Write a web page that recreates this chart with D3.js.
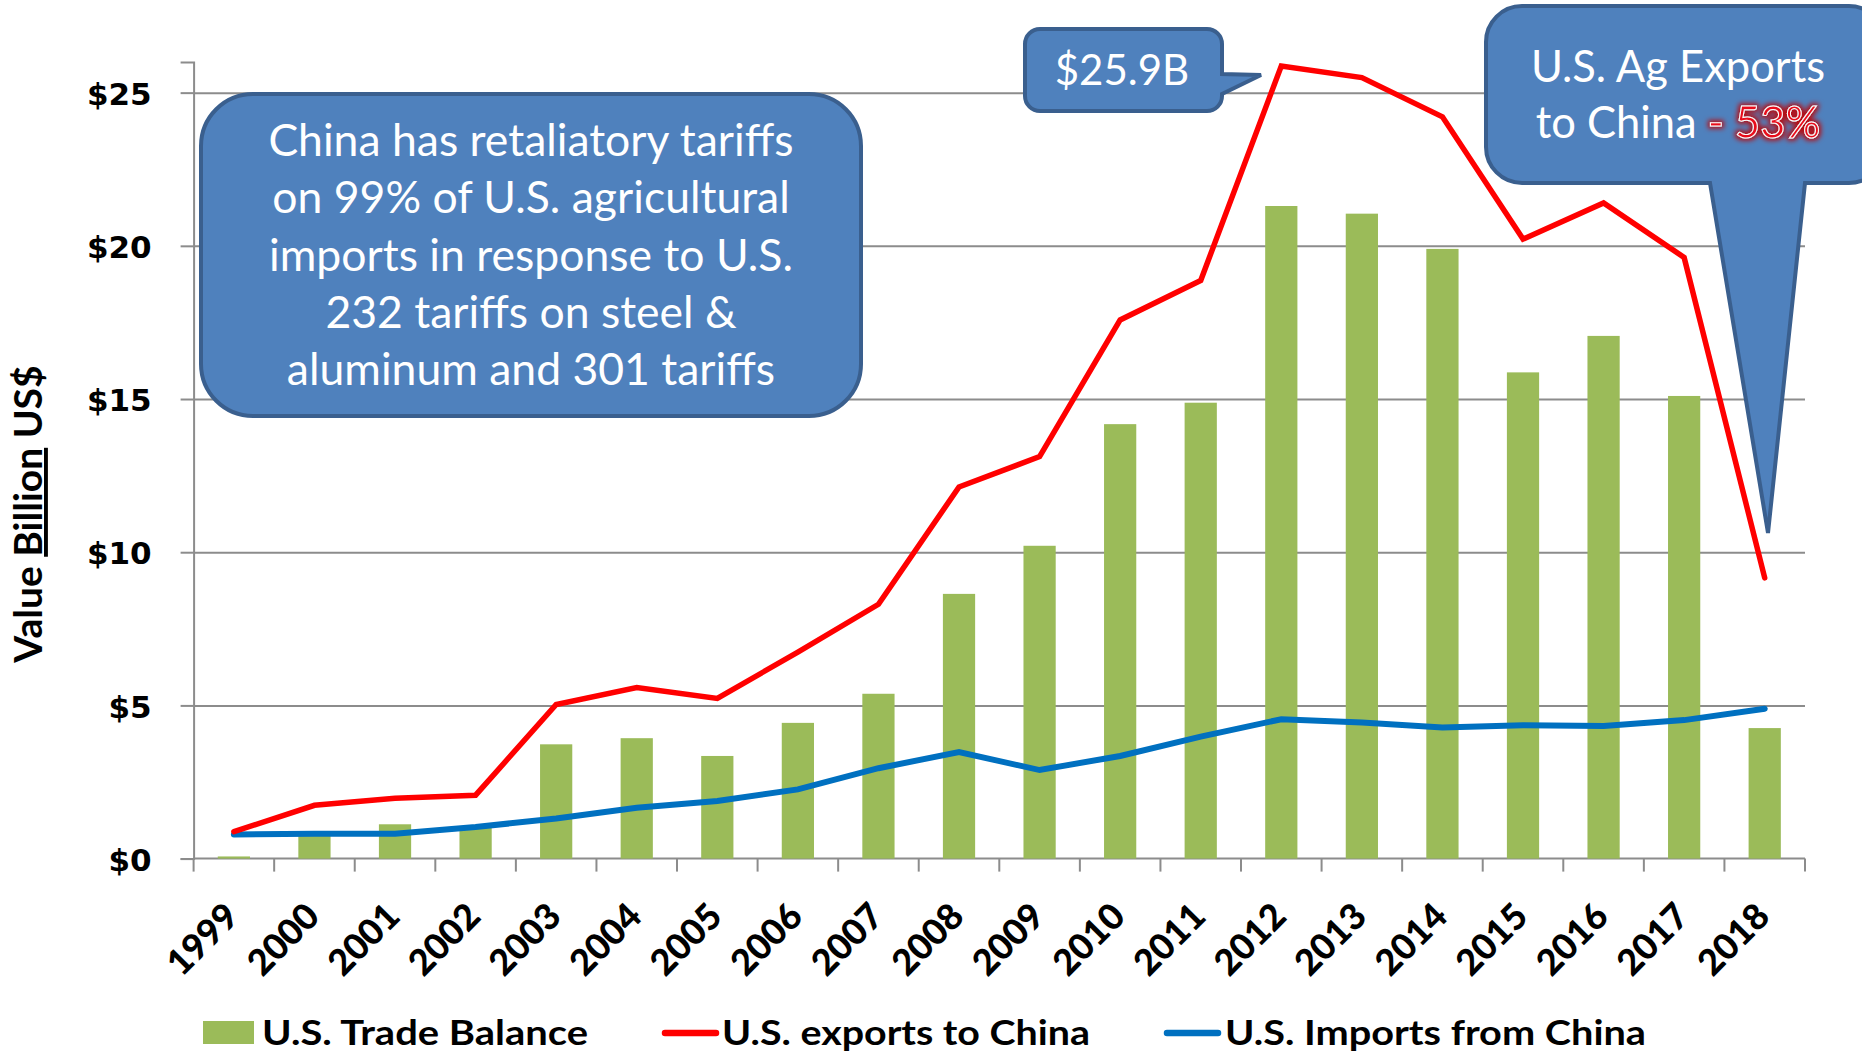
<!DOCTYPE html>
<html>
<head>
<meta charset="utf-8">
<script src="https://cdn.jsdelivr.net/npm/d3@7.9.0/dist/d3.min.js"></script>
<style>
  body { margin: 0; background: #fff; }
  svg { display: block; }
</style>
</head>
<body>
<svg id="chart" width="1862" height="1053"></svg>
<script>
// data (billion US$)
const years = ['1999','2000','2001','2002','2003','2004','2005','2006','2007','2008',
               '2009','2010','2011','2012','2013','2014','2015','2016','2017','2018'];
const tradeBalance = [0.07, 0.88, 1.12, 1.02, 3.73, 3.93, 3.35, 4.43, 5.38, 8.64,
                      10.21, 14.18, 14.88, 21.3, 21.05, 19.9, 15.87, 17.06, 15.1, 4.26];
const exportsToChina = [0.88, 1.74, 1.97, 2.07, 5.03, 5.58, 5.23, 6.74, 8.3, 12.13,
                        13.12, 17.58, 18.87, 25.87, 25.49, 24.21, 20.22, 21.4, 19.62, 9.16];
const importsFromChina = [0.79, 0.81, 0.81, 1.03, 1.31, 1.66, 1.88, 2.26, 2.95, 3.48,
                          2.89, 3.35, 3.98, 4.55, 4.44, 4.28, 4.35, 4.33, 4.52, 4.89];
const yTicks = [0, 5, 10, 15, 20, 25];
const legendLabels = ['U.S. Trade Balance', 'U.S. exports to China', 'U.S. Imports from China'];
const noteLines = ['China has retaliatory tariffs', 'on 99% of U.S. agricultural',
                   'imports in response to U.S.', '232 tariffs on steel &', 'aluminum and 301 tariffs'];

const GREEN = '#9BBB59', RED = '#FF0000', BLUE = '#0070C0';
const BOX = '#4F81BD', BOX_LINE = '#3A5F8E', GRID = '#8c8c8c';
const SANS = 'Lato, "Open Sans", sans-serif';

const svg = d3.select('#chart');
const plotLeft = 193.6, plotRight = 1805, plotBottom = 858.6, plotTop = 62;

const x = d3.scaleBand().domain(years).range([plotLeft, plotRight]).padding(0);
const y = d3.scaleLinear().domain([0, 26]).range([plotBottom, plotTop]);
const cx = (d) => x(d) + x.bandwidth() / 2;

// gridlines + y labels
const yAxis = d3.axisLeft(y).tickValues(yTicks).tickSize(13).tickFormat((d) => '$' + d);
const gy = svg.append('g').attr('transform', `translate(${plotLeft},0)`).call(yAxis);
gy.select('.domain').attr('stroke', GRID).attr('stroke-width', 2);
gy.selectAll('.tick line').attr('stroke', GRID).attr('stroke-width', 2);
gy.selectAll('.tick text')
  .attr('x', -42).attr('dy', '0.38em')
  .style('font-family', '"DejaVu Sans", Verdana, sans-serif')
  .style('font-weight', 'bold').style('font-size', '31px').attr('fill', '#000');
gy.selectAll('.tick').filter((d) => d > 0).append('line')
  .attr('x1', 0).attr('x2', plotRight - plotLeft)
  .attr('stroke', GRID).attr('stroke-width', 2);

// x axis with ticks at band edges
const gx = svg.append('g').attr('transform', `translate(0,${plotBottom})`);
gx.append('line').attr('x1', plotLeft).attr('x2', plotRight).attr('stroke', GRID).attr('stroke-width', 2);
gx.selectAll('line.edge')
  .data(d3.range(years.length + 1))
  .join('line').attr('class', 'edge')
  .attr('x1', (i) => plotLeft + i * x.bandwidth()).attr('x2', (i) => plotLeft + i * x.bandwidth())
  .attr('y1', 0).attr('y2', 13)
  .attr('stroke', GRID).attr('stroke-width', 2);
gx.selectAll('text')
  .data(years)
  .join('text')
  .attr('transform', (d) => `translate(${cx(d) + 7},60) rotate(-45)`)
  .attr('text-anchor', 'end')
  .style('font-family', SANS).style('font-weight', 900).style('font-size', '36px')
  .text((d) => d);

// bars
const barW = x.bandwidth() * 0.4;
svg.append('g').selectAll('rect')
  .data(years)
  .join('rect')
  .attr('x', (d) => cx(d) - barW / 2)
  .attr('width', barW)
  .attr('y', (d, i) => y(tradeBalance[i]))
  .attr('height', (d, i) => plotBottom - y(tradeBalance[i]))
  .attr('fill', GREEN);

// lines
const line = d3.line().x((d, i) => cx(years[i])).y((d) => y(d));
svg.append('path').datum(importsFromChina).attr('d', line)
  .attr('fill', 'none').attr('stroke', BLUE).attr('stroke-width', 6).attr('stroke-linecap', 'round');
svg.append('path').datum(exportsToChina).attr('d', line)
  .attr('fill', 'none').attr('stroke', RED).attr('stroke-width', 5.5).attr('stroke-linecap', 'round');

// y axis title
svg.append('text')
  .attr('transform', 'translate(42,514) rotate(-90)')
  .attr('text-anchor', 'middle')
  .style('font-family', SANS).style('font-weight', 'bold').style('font-size', '39px')
  .call((t) => {
    t.append('tspan').text('Value ');
    t.append('tspan').text('Billion').style('text-decoration', 'underline');
    t.append('tspan').text(' US$');
  });

// legend (text in the picture is wider than Lato, so stretch to the measured widths)
const lg = svg.append('g').style('font-family', SANS).style('font-weight', 'bold').style('font-size', '35px');
lg.append('rect').attr('x', 203).attr('y', 1021).attr('width', 51).attr('height', 23).attr('fill', GREEN);
lg.append('text').attr('x', 262).attr('y', 1045)
  .attr('textLength', 326).attr('lengthAdjust', 'spacingAndGlyphs').text(legendLabels[0]);
lg.append('line').attr('x1', 665).attr('x2', 716).attr('y1', 1033).attr('y2', 1033)
  .attr('stroke', RED).attr('stroke-width', 6.5).attr('stroke-linecap', 'round');
lg.append('text').attr('x', 722).attr('y', 1045)
  .attr('textLength', 368).attr('lengthAdjust', 'spacingAndGlyphs').text(legendLabels[1]);
lg.append('line').attr('x1', 1167).attr('x2', 1218).attr('y1', 1033).attr('y2', 1033)
  .attr('stroke', BLUE).attr('stroke-width', 6.5).attr('stroke-linecap', 'round');
lg.append('text').attr('x', 1225).attr('y', 1045)
  .attr('textLength', 421).attr('lengthAdjust', 'spacingAndGlyphs').text(legendLabels[2]);

// callouts
const arc = (r, x1, y1) => `A${r},${r} 0 0 1 ${x1},${y1}`;

// big note box
svg.append('rect')
  .attr('x', 201).attr('y', 94).attr('width', 660).attr('height', 322)
  .attr('rx', 52).attr('ry', 52)
  .attr('fill', BOX).attr('stroke', BOX_LINE).attr('stroke-width', 4);
svg.append('g').selectAll('text')
  .data(noteLines)
  .join('text')
  .attr('x', 531).attr('y', (d, i) => 156 + i * 57.3)
  .attr('text-anchor', 'middle').attr('fill', '#fff')
  .style('font-family', SANS).style('font-size', '44.5px')
  .text((d) => d);

// $25.9B callout pointing at the 2012 peak
{
  const x0 = 1025, y0 = 29, x1 = 1222, y1 = 111, r = 15;
  const d = `M${x0 + r},${y0} H${x1 - r} ${arc(r, x1, y0 + r)} V74 L1261,75 L${x1},94 V${y1 - r} ` +
            `${arc(r, x1 - r, y1)} H${x0 + r} ${arc(r, x0, y1 - r)} V${y0 + r} ${arc(r, x0 + r, y0)} Z`;
  svg.append('path').attr('d', d).attr('fill', BOX).attr('stroke', BOX_LINE).attr('stroke-width', 4);
  svg.append('text').attr('x', 1122).attr('y', 85).attr('text-anchor', 'middle').attr('fill', '#fff')
    .style('font-family', SANS).style('font-size', '42px').text('$25.9B');
}

// Ag exports callout
{
  const x0 = 1486, y0 = 6, x1 = 1885, y1 = 183, r = 36;
  const d = `M${x0 + r},${y0} H${x1 - r} ${arc(r, x1, y0 + r)} V${y1 - r} ${arc(r, x1 - r, y1)} ` +
            `H1805 L1768,533 L1710,${y1} H${x0 + r} ${arc(r, x0, y1 - r)} V${y0 + r} ${arc(r, x0 + r, y0)} Z`;
  svg.append('path').attr('d', d).attr('fill', BOX).attr('stroke', BOX_LINE).attr('stroke-width', 4);

  const defs = svg.append('defs');
  const f = defs.append('filter').attr('id', 'glow').attr('x', '-20%').attr('y', '-40%')
    .attr('width', '140%').attr('height', '180%');
  f.append('feMorphology').attr('in', 'SourceAlpha').attr('operator', 'dilate').attr('radius', 1.5).attr('result', 'd');
  f.append('feGaussianBlur').attr('in', 'd').attr('stdDeviation', 2.5).attr('result', 'b');
  f.append('feFlood').attr('flood-color', '#c00000').attr('flood-opacity', 0.9);
  f.append('feComposite').attr('in2', 'b').attr('operator', 'in').attr('result', 'g');
  const m = f.append('feMerge');
  m.append('feMergeNode').attr('in', 'g');
  m.append('feMergeNode').attr('in', 'SourceGraphic');

  const t = svg.append('g').style('font-family', SANS).style('font-size', '43.5px')
    .attr('text-anchor', 'middle').attr('fill', '#fff');
  t.append('text').attr('x', 1678).attr('y', 82).text('U.S. Ag Exports');
  const t2 = t.append('text').attr('x', 1678).attr('y', 138);
  t2.append('tspan').text('to China ');
  t2.append('tspan').text('- 53%').attr('fill', '#e8101a')
    .attr('stroke', '#fff').attr('stroke-width', 1).attr('filter', 'url(#glow)');
}
</script>
</body>
</html>
